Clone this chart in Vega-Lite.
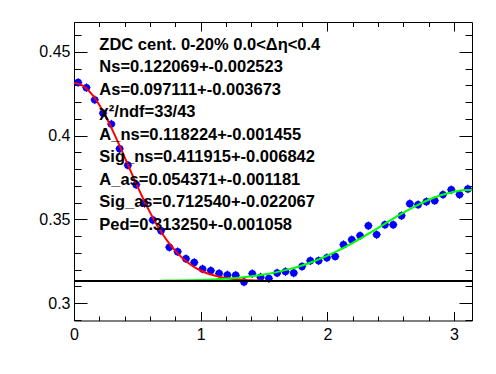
{
  "$schema": "https://vega.github.io/schema/vega-lite/v6.json",
  "autosize": "none",
  "padding": {"left": 74, "top": 22, "right": 24, "bottom": 53},
  "width": 398,
  "height": 298.5,
  "background": "white",
  "config": {
    "view": {"stroke": "black", "strokeWidth": 1},
    "axis": {"grid": false, "domain": false, "labelFont": "Liberation Sans", "labelFontSize": 16, "labelColor": "black", "tickColor": "black", "tickWidth": 1, "labelFlush": false}
  },
  "datasets": {
    "pts": [
      {"dphi": 0.0327, "v": 0.4318, "ex": 0.0327, "ey": 0.0026},
      {"dphi": 0.0982, "v": 0.4287, "ex": 0.0327, "ey": 0.0026},
      {"dphi": 0.1636, "v": 0.4214, "ex": 0.0327, "ey": 0.0026},
      {"dphi": 0.2291, "v": 0.4134, "ex": 0.0327, "ey": 0.0026},
      {"dphi": 0.2945, "v": 0.4069, "ex": 0.0327, "ey": 0.0026},
      {"dphi": 0.3600, "v": 0.3922, "ex": 0.0327, "ey": 0.0026},
      {"dphi": 0.4254, "v": 0.3823, "ex": 0.0327, "ey": 0.0026},
      {"dphi": 0.4909, "v": 0.3707, "ex": 0.0327, "ey": 0.0026},
      {"dphi": 0.5563, "v": 0.3596, "ex": 0.0327, "ey": 0.0026},
      {"dphi": 0.6218, "v": 0.3496, "ex": 0.0327, "ey": 0.0026},
      {"dphi": 0.6872, "v": 0.3432, "ex": 0.0327, "ey": 0.0026},
      {"dphi": 0.7527, "v": 0.3334, "ex": 0.0327, "ey": 0.0026},
      {"dphi": 0.8181, "v": 0.3307, "ex": 0.0327, "ey": 0.0026},
      {"dphi": 0.8836, "v": 0.3265, "ex": 0.0327, "ey": 0.0026},
      {"dphi": 0.9490, "v": 0.3243, "ex": 0.0327, "ey": 0.0026},
      {"dphi": 1.0145, "v": 0.3204, "ex": 0.0327, "ey": 0.0026},
      {"dphi": 1.0799, "v": 0.3194, "ex": 0.0327, "ey": 0.0026},
      {"dphi": 1.1454, "v": 0.3177, "ex": 0.0327, "ey": 0.0026},
      {"dphi": 1.2108, "v": 0.3168, "ex": 0.0327, "ey": 0.0026},
      {"dphi": 1.2763, "v": 0.3166, "ex": 0.0327, "ey": 0.0026},
      {"dphi": 1.3417, "v": 0.3126, "ex": 0.0327, "ey": 0.0026},
      {"dphi": 1.4072, "v": 0.3176, "ex": 0.0327, "ey": 0.0026},
      {"dphi": 1.4726, "v": 0.3155, "ex": 0.0327, "ey": 0.0026},
      {"dphi": 1.5381, "v": 0.3147, "ex": 0.0327, "ey": 0.0026},
      {"dphi": 1.6035, "v": 0.3180, "ex": 0.0327, "ey": 0.0026},
      {"dphi": 1.6690, "v": 0.3188, "ex": 0.0327, "ey": 0.0026},
      {"dphi": 1.7344, "v": 0.3180, "ex": 0.0327, "ey": 0.0026},
      {"dphi": 1.7999, "v": 0.3219, "ex": 0.0327, "ey": 0.0026},
      {"dphi": 1.8653, "v": 0.3253, "ex": 0.0327, "ey": 0.0026},
      {"dphi": 1.9308, "v": 0.3253, "ex": 0.0327, "ey": 0.0026},
      {"dphi": 1.9962, "v": 0.3271, "ex": 0.0327, "ey": 0.0026},
      {"dphi": 2.0617, "v": 0.3279, "ex": 0.0327, "ey": 0.0026},
      {"dphi": 2.1271, "v": 0.3349, "ex": 0.0327, "ey": 0.0026},
      {"dphi": 2.1926, "v": 0.3378, "ex": 0.0327, "ey": 0.0026},
      {"dphi": 2.2580, "v": 0.3403, "ex": 0.0327, "ey": 0.0026},
      {"dphi": 2.3235, "v": 0.3462, "ex": 0.0327, "ey": 0.0026},
      {"dphi": 2.3889, "v": 0.3409, "ex": 0.0327, "ey": 0.0026},
      {"dphi": 2.4544, "v": 0.3468, "ex": 0.0327, "ey": 0.0026},
      {"dphi": 2.5198, "v": 0.3468, "ex": 0.0327, "ey": 0.0026},
      {"dphi": 2.5853, "v": 0.3522, "ex": 0.0327, "ey": 0.0026},
      {"dphi": 2.6507, "v": 0.3594, "ex": 0.0327, "ey": 0.0026},
      {"dphi": 2.7162, "v": 0.3588, "ex": 0.0327, "ey": 0.0026},
      {"dphi": 2.7816, "v": 0.3606, "ex": 0.0327, "ey": 0.0026},
      {"dphi": 2.8471, "v": 0.3612, "ex": 0.0327, "ey": 0.0026},
      {"dphi": 2.9125, "v": 0.3648, "ex": 0.0327, "ey": 0.0026},
      {"dphi": 2.9780, "v": 0.3677, "ex": 0.0327, "ey": 0.0026},
      {"dphi": 3.0434, "v": 0.3648, "ex": 0.0327, "ey": 0.0026},
      {"dphi": 3.1089, "v": 0.3682, "ex": 0.0327, "ey": 0.0026}
    ],
    "nearfit": [
      {"dphi": 0.00, "v": 0.431474}, {"dphi": 0.05, "v": 0.430606}, {"dphi": 0.10, "v": 0.428041},
      {"dphi": 0.15, "v": 0.423890}, {"dphi": 0.20, "v": 0.418328}, {"dphi": 0.25, "v": 0.411587},
      {"dphi": 0.30, "v": 0.403934}, {"dphi": 0.35, "v": 0.395652}, {"dphi": 0.40, "v": 0.387031},
      {"dphi": 0.45, "v": 0.378347}, {"dphi": 0.50, "v": 0.369846}, {"dphi": 0.55, "v": 0.361732},
      {"dphi": 0.60, "v": 0.354173}, {"dphi": 0.65, "v": 0.347289}, {"dphi": 0.70, "v": 0.341151},
      {"dphi": 0.75, "v": 0.335782}, {"dphi": 0.80, "v": 0.331182}, {"dphi": 0.85, "v": 0.327312},
      {"dphi": 0.90, "v": 0.324114}, {"dphi": 0.95, "v": 0.321520}, {"dphi": 1.00, "v": 0.319456},
      {"dphi": 1.05, "v": 0.317839}, {"dphi": 1.10, "v": 0.316593}, {"dphi": 1.15, "v": 0.315650},
      {"dphi": 1.20, "v": 0.314947}, {"dphi": 1.25, "v": 0.314433}, {"dphi": 1.30, "v": 0.314062},
      {"dphi": 1.35, "v": 0.313800}, {"dphi": 1.40, "v": 0.313617}, {"dphi": 1.45, "v": 0.313491},
      {"dphi": 1.50, "v": 0.313406}
    ],
    "awayfit": [
      {"dphi": 0.68, "v": 0.313389}, {"dphi": 0.80, "v": 0.313496}, {"dphi": 0.90, "v": 0.313635},
      {"dphi": 1.00, "v": 0.313844}, {"dphi": 1.10, "v": 0.314146}, {"dphi": 1.20, "v": 0.314577},
      {"dphi": 1.30, "v": 0.315177}, {"dphi": 1.40, "v": 0.315992}, {"dphi": 1.50, "v": 0.317075},
      {"dphi": 1.60, "v": 0.318484}, {"dphi": 1.70, "v": 0.320273}, {"dphi": 1.80, "v": 0.322489},
      {"dphi": 1.90, "v": 0.325164}, {"dphi": 2.00, "v": 0.328314}, {"dphi": 2.10, "v": 0.331929},
      {"dphi": 2.20, "v": 0.335958}, {"dphi": 2.30, "v": 0.340317}, {"dphi": 2.40, "v": 0.344883},
      {"dphi": 2.50, "v": 0.349501}, {"dphi": 2.60, "v": 0.353980}, {"dphi": 2.70, "v": 0.358121},
      {"dphi": 2.80, "v": 0.361720}, {"dphi": 2.90, "v": 0.364584}, {"dphi": 3.00, "v": 0.366558},
      {"dphi": 3.10, "v": 0.367528}, {"dphi": 3.14159, "v": 0.367621}
    ],
    "one": [{}]
  },
  "resolve": {"axis": {"x": "independent", "y": "independent"}},
  "layer": [
    {
      "data": {"name": "pts"},
      "mark": {"type": "errorbar", "color": "#0000ff", "thickness": 1},
      "encoding": {
        "x": {"field": "dphi", "type": "quantitative", "scale": {"domain": [0, 3.14159], "nice": false, "zero": false},
              "axis": {"orient": "bottom", "title": null, "values": [0, 1, 2, 3], "tickSize": -9, "labelPadding": 15, "format": "d"}},
        "xError": {"field": "ex"},
        "y": {"field": "v", "type": "quantitative", "scale": {"domain": [0.2896, 0.4679], "nice": false, "zero": false},
              "axis": {"orient": "left", "title": null, "values": [0.3, 0.35, 0.4, 0.45], "tickSize": -13, "labelPadding": 17, "format": ".2~f"}}
      }
    },
    {
      "data": {"name": "pts"},
      "mark": {"type": "errorbar", "color": "#0000ff", "thickness": 1},
      "encoding": {
        "x": {"field": "dphi", "type": "quantitative",
              "axis": {"orient": "bottom", "title": null, "values": [0.2, 0.4, 0.6, 0.8, 1.2, 1.4, 1.6, 1.8, 2.2, 2.4, 2.6, 2.8], "tickSize": -4.5, "labels": false}},
        "y": {"field": "v", "type": "quantitative",
              "axis": {"orient": "left", "title": null, "values": [0.29, 0.31, 0.32, 0.33, 0.34, 0.36, 0.37, 0.38, 0.39, 0.41, 0.42, 0.43, 0.44, 0.46], "tickSize": -7, "labels": false}},
        "yError": {"field": "ey"}
      }
    },
    {
      "data": {"name": "pts"},
      "mark": {"type": "circle", "color": "#0000ff", "opacity": 1, "size": 55},
      "encoding": {
        "x": {"field": "dphi", "type": "quantitative",
              "axis": {"orient": "top", "title": null, "values": [0, 1, 2, 3], "tickSize": -9, "labels": false}},
        "y": {"field": "v", "type": "quantitative",
              "axis": {"orient": "right", "title": null, "values": [0.3, 0.35, 0.4, 0.45], "tickSize": -13, "labels": false}}
      }
    },
    {
      "data": {"name": "nearfit"},
      "mark": {"type": "line", "color": "#ff0000", "strokeWidth": 2, "interpolate": "monotone"},
      "encoding": {
        "x": {"field": "dphi", "type": "quantitative",
              "axis": {"orient": "top", "title": null, "values": [0.2, 0.4, 0.6, 0.8, 1.2, 1.4, 1.6, 1.8, 2.2, 2.4, 2.6, 2.8], "tickSize": -4.5, "labels": false}},
        "y": {"field": "v", "type": "quantitative",
              "axis": {"orient": "right", "title": null, "values": [0.29, 0.31, 0.32, 0.33, 0.34, 0.36, 0.37, 0.38, 0.39, 0.41, 0.42, 0.43, 0.44, 0.46], "tickSize": -7, "labels": false}}
      }
    },
    {
      "data": {"name": "awayfit"},
      "mark": {"type": "line", "color": "#00ff00", "strokeWidth": 2, "interpolate": "monotone"},
      "encoding": {
        "x": {"field": "dphi", "type": "quantitative", "axis": null},
        "y": {"field": "v", "type": "quantitative", "axis": null}
      }
    },
    {
      "data": {"name": "one"},
      "mark": {"type": "rule", "color": "black", "strokeWidth": 2},
      "encoding": {"y": {"datum": 0.31325, "type": "quantitative", "axis": null}}
    },
    {
      "data": {"name": "one"},
      "mark": {"type": "text", "align": "left", "baseline": "alphabetic", "font": "Liberation Sans", "fontWeight": "bold", "fontSize": 16.5, "lineHeight": 22.5, "color": "black",
               "text": ["ZDC cent. 0-20% 0.0<Δη<0.4", "Ns=0.122069+-0.002523", "As=0.097111+-0.003673", "χ²/ndf=33/43", "A_ns=0.118224+-0.001455", "Sig_ns=0.411915+-0.006842", "A_as=0.054371+-0.001181", "Sig_as=0.712540+-0.022067", "Ped=0.313250+-0.001058"]},
      "encoding": {"x": {"datum": 0.2, "type": "quantitative", "axis": null}, "y": {"datum": 0.4514, "type": "quantitative", "axis": null}}
    }
  ]
}
